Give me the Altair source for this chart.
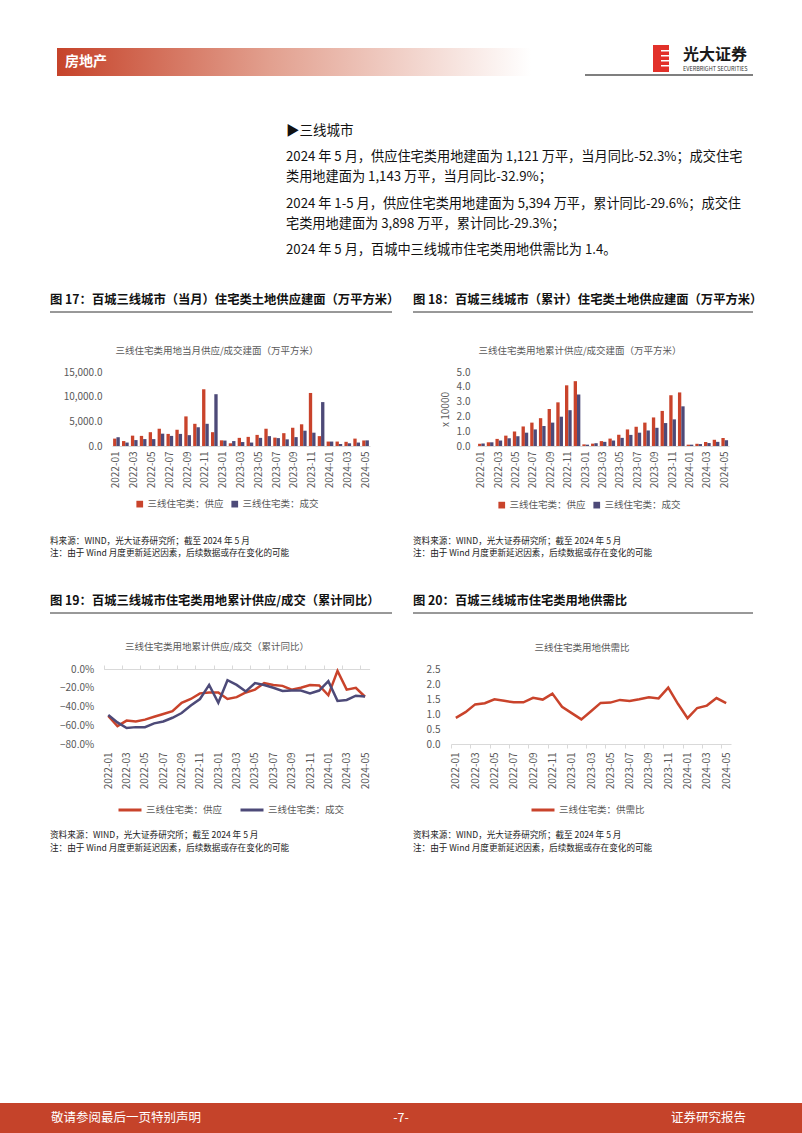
import altair as alt
import pandas as pd

FONT = "Noto Sans CJK SC"
RED = "#C9432B"
NAVY = "#4D4A78"
GRAY_T = "#595959"
AXIS_LINE = "#D9D9D9"

months = ["2022-01", "2022-02", "2022-03", "2022-04", "2022-05", "2022-06", "2022-07",
          "2022-08", "2022-09", "2022-10", "2022-11", "2022-12", "2023-01", "2023-02",
          "2023-03", "2023-04", "2023-05", "2023-06", "2023-07", "2023-08", "2023-09",
          "2023-10", "2023-11", "2023-12", "2024-01", "2024-02", "2024-03", "2024-04",
          "2024-05"]
tick_months = months[::2]

S_SUP = "三线住宅类：供应"
S_DEAL = "三线住宅类：成交"
S_RATIO = "三线住宅类：供需比"

# 当月供应/成交（万平方米）
supply_month = [1500, 1000, 2100, 2050, 2800, 3500, 2450, 3300, 6000, 4500, 11500, 2800,
                1150, 550, 1650, 1850, 2250, 3500, 1700, 2600, 3700, 4400, 10750, 2000,
                900, 900, 850, 1500, 1121]
deal_month = [1780, 700, 1200, 1400, 1400, 2500, 2050, 2450, 2200, 3800, 4500, 10500,
              1100, 1000, 800, 700, 1650, 2000, 1600, 1350, 1800, 3100, 2700, 8900,
              900, 400, 550, 700, 1143]
# 累计供应/成交（x 10000 万平方米）
supply_cum = [0.15, 0.25, 0.48, 0.70, 0.98, 1.32, 1.58, 1.88, 2.50, 2.95, 4.10, 4.38,
              0.11, 0.16, 0.33, 0.50, 0.76, 1.12, 1.30, 1.58, 1.93, 2.37, 3.43, 3.62,
              0.09, 0.15, 0.27, 0.42, 0.54]
deal_cum = [0.17, 0.25, 0.37, 0.52, 0.66, 0.90, 1.12, 1.35, 1.58, 1.98, 2.42, 3.48,
            0.09, 0.19, 0.28, 0.37, 0.55, 0.75, 0.90, 1.05, 1.23, 1.55, 1.80, 2.68,
            0.09, 0.13, 0.20, 0.28, 0.39]
# 累计同比（%）
supply_yoy = [-50, -61, -55, -56, -54, -51, -48, -45, -36, -32, -26, -25,
              -25, -32, -30, -25, -22, -15, -17, -18, -22, -20, -17, -17.5,
              -28, -2, -22, -20, -29.6]
deal_yoy = [-49, -57, -63, -62, -62, -58, -56, -52, -47, -39, -32, -17,
            -36, -12, -17, -24, -15, -17, -20, -23.5, -23, -23, -26, -23,
            -13, -34, -33, -28.5, -29.3]
# 供需比
ratio = [0.87, 1.06, 1.32, 1.36, 1.49, 1.44, 1.39, 1.39, 1.54, 1.48, 1.68, 1.24,
         1.03, 0.82, 1.09, 1.37, 1.38, 1.47, 1.43, 1.49, 1.56, 1.52, 1.88, 1.34,
         0.86, 1.20, 1.28, 1.53, 1.36]

para_lines = [
    "2024 年 5 月，供应住宅类用地建面为 1,121 万平，当月同比-52.3%；成交住宅",
    "类用地建面为 1,143 万平，当月同比-32.9%；",
    "2024 年 1-5 月，供应住宅类用地建面为 5,394 万平，累计同比-29.6%；成交住",
    "宅类用地建面为 3,898 万平，累计同比-29.3%；",
    "2024 年 5 月，百城中三线城市住宅类用地供需比为 1.4。",
]

dummy = pd.DataFrame({"d": [0]})


def txt(s, x, y, size=12.0, color="#000000", weight="normal", align="left", off=0):
    return alt.Chart(dummy).mark_text(
        text=s, font=FONT, fontSize=size, color=color, fontWeight=weight,
        align=align, baseline="middle"
    ).encode(x=alt.value(x), y=alt.value(y - off))


def hline(x1, x2, y, color, w, off=0):
    return alt.Chart(dummy).mark_rule(color=color, strokeWidth=w).encode(
        x=alt.value(x1), x2=alt.value(x2), y=alt.value(y - off))


def rect(x1, x2, y1, y2, fill, off=0):
    return alt.Chart(dummy).mark_rect(fill=fill).encode(
        x=alt.value(x1), x2=alt.value(x2), y=alt.value(y1 - off), y2=alt.value(y2 - off))


def spacer(w, h):
    return alt.Chart(dummy).mark_text(text=" ", fontSize=1, align="left", baseline="top").encode(
        x=alt.value(0), y=alt.value(0)).properties(width=w, height=h)


def legend(x, y, stype, ssize, colpad, sw=0):
    return alt.Legend(orient="none", legendX=x, legendY=y, direction="horizontal", title=None,
                      symbolType=stype, symbolSize=ssize, symbolStrokeWidth=sw,
                      labelFont=FONT, labelFontSize=9.5, labelColor=GRAY_T,
                      columnPadding=colpad, labelOffset=3, padding=0)


def x_axis_labels(**kw):
    base = dict(values=tick_months, labelAngle=270, labelAlign="right", labelBaseline="middle",
                labelPadding=5, title=None, labelFont=FONT, labelFontSize=10,
                labelColor=GRAY_T, grid=False)
    base.update(kw)
    return alt.Axis(**base)


def y_axis(values, pad, **kw):
    base = dict(values=values, grid=False, domain=False, ticks=False, labelPadding=pad,
                title=None, labelFont=FONT, labelFontSize=10, labelColor=GRAY_T)
    base.update(kw)
    return alt.Axis(**base)


def sup_deal_scale():
    return alt.Scale(domain=[S_SUP, S_DEAL], range=[RED, NAVY])


# column grid (page x): col0 0-112, col1 112-370, col2 370-477, col3 477-729
COL1_X = 112
COL3_X = 477

# ---------------- chart 17 ----------------
df17 = pd.DataFrame({"month": months + months,
                     "series": [S_SUP] * len(months) + [S_DEAL] * len(months),
                     "value": supply_month + deal_month})
c17 = alt.Chart(df17).mark_bar().encode(
    x=alt.X("month:O", sort=months, scale=alt.Scale(paddingInner=0.25, paddingOuter=0.125),
            axis=x_axis_labels(ticks=False, domainColor=AXIS_LINE)),
    xOffset=alt.XOffset("series:N", sort=[S_SUP, S_DEAL]),
    y=alt.Y("value:Q", scale=alt.Scale(domain=[0, 15000]),
            axis=y_axis([0, 5000, 10000, 15000], 10, format=",.1f")),
    color=alt.Color("series:N", scale=sup_deal_scale(), sort=[S_SUP, S_DEAL],
                    legend=legend(23, 127, "square", 45, 6)),
).properties(width=258, height=74)

# ---------------- chart 18 ----------------
df18 = pd.DataFrame({"month": months + months,
                     "series": [S_SUP] * len(months) + [S_DEAL] * len(months),
                     "value": supply_cum + deal_cum})
c18 = alt.Chart(df18).mark_bar().encode(
    x=alt.X("month:O", sort=months, scale=alt.Scale(paddingInner=0.25, paddingOuter=0.125),
            axis=x_axis_labels(ticks=False, domainColor=AXIS_LINE)),
    xOffset=alt.XOffset("series:N", sort=[S_SUP, S_DEAL]),
    y=alt.Y("value:Q", scale=alt.Scale(domain=[0, 5]),
            axis=y_axis([0, 1, 2, 3, 4, 5], 7, format=".1f", title="x 10000",
                        titleFont=FONT, titleFontSize=10, titleColor=GRAY_T,
                        titleFontWeight="normal", titlePadding=6)),
    color=alt.Color("series:N", scale=sup_deal_scale(), sort=[S_SUP, S_DEAL],
                    legend=legend(20, 128, "square", 45, 6)),
).properties(width=252, height=74)

# ---------------- chart 19 (plot spans page x 103.7-369.6) ----------------
L19, R19 = 103.7 - COL1_X, 369.6 - COL1_X
step19 = (R19 - L19) / len(months)
df19 = pd.DataFrame({"month": months + months,
                     "series": [S_SUP] * len(months) + [S_DEAL] * len(months),
                     "value": supply_yoy + deal_yoy})
x19_scale = alt.Scale(type="point", padding=0.5, range=[L19, R19])
y19 = alt.Y("value:Q", scale=alt.Scale(domain=[-80, 0]),
            axis=y_axis([-80, -60, -40, -20, 0], 10, offset=-L19,
                        labelExpr="format(datum.value, '.1f') + '%'"))
l19 = alt.Chart(df19).mark_line(strokeWidth=2.5).encode(
    x=alt.X("month:O", sort=months, scale=x19_scale,
            axis=x_axis_labels(ticks=False, domain=False, labelPadding=8)),
    y=y19,
    color=alt.Color("series:N", scale=sup_deal_scale(), sort=[S_SUP, S_DEAL],
                    legend=legend(117 - COL1_X, 128, "stroke", 529, 11, 3)),
)
top19 = alt.Chart(df19).mark_line(opacity=0).encode(
    x=alt.X("month:O", sort=months, scale=x19_scale,
            axis=alt.Axis(orient="top", values=tick_months, labels=False, title=None,
                          domainColor=AXIS_LINE, tickColor=AXIS_LINE, tickSize=4,
                          tickOffset=-step19 / 2, grid=False)),
    y=y19,
    detail="series:N",
)
c19 = alt.layer(l19, top19).resolve_axis(x="independent").properties(width=258, height=75)

# ---------------- chart 20 (plot spans page x 451-731) ----------------
L20, R20 = 451 - COL3_X, 731 - COL3_X
step20 = (R20 - L20) / len(months)
df20 = pd.DataFrame({"month": months, "series": [S_RATIO] * len(months), "value": ratio})
c20 = alt.Chart(df20).mark_line(strokeWidth=2.5).encode(
    x=alt.X("month:O", sort=months, scale=alt.Scale(type="point", padding=0.5, range=[L20, R20]),
            axis=x_axis_labels(ticks=True, tickColor=AXIS_LINE, tickSize=4,
                               domainColor=AXIS_LINE, tickOffset=-step20 / 2,
                               labelOffset=step20 / 2, labelPadding=4)),
    y=alt.Y("value:Q", scale=alt.Scale(domain=[0, 2.5]),
            axis=y_axis([0, 0.5, 1.0, 1.5, 2.0, 2.5], 11, format=".1f", offset=-L20)),
    color=alt.Color("series:N", scale=alt.Scale(domain=[S_RATIO], range=[RED]),
                    legend=legend(530 - COL3_X, 128, "stroke", 529, 11, 3)),
).properties(width=252, height=75)

# ---------------- page decorations ----------------
header_grad = alt.Chart(dummy).mark_rect(
    fill=alt.Gradient(gradient="linear",
                      stops=[alt.GradientStop(color="#C6432A", offset=0),
                             alt.GradientStop(color="#E2A08F", offset=0.45),
                             alt.GradientStop(color="#FFFFFF", offset=1)],
                      x1=0, x2=1, y1=0, y2=0)
).encode(x=alt.value(57), x2=alt.value(531), y=alt.value(48), y2=alt.value(76))

SRC_L = "料来源：WIND，光大证券研究所；截至 2024 年 5 月"
SRC = "资料来源：WIND，光大证券研究所；截至 2024 年 5 月"
NOTE = "注：由于 Wind 月度更新延迟因素，后续数据或存在变化的可能"

top_items = [
    header_grad,
    txt("房地产", 65, 62, 14, "#FFFFFF", "bold"),
    rect(653, 669, 45, 72, "#E2312A"),
    rect(661, 670, 50, 51.5, "#FFFFFF"),
    rect(661, 670, 55, 56.5, "#FFFFFF"),
    rect(661, 670, 60, 61.5, "#FFFFFF"),
    rect(661, 670, 65, 66.5, "#FFFFFF"),
    txt("光大证券", 683, 55, 16, "#1A1A1A", "bold"),
    txt("EVERBRIGHT SECURITIES", 683, 69, 5.5, "#333333"),
    hline(585, 753, 75, "#7F7F7F", 2),
    txt("▶三线城市", 286, 131, 13.5, "#111111"),
    txt(para_lines[0], 286, 157, 13.2, "#111111"),
    txt(para_lines[1], 286, 177, 13.2, "#111111"),
    txt(para_lines[2], 286, 204, 13.2, "#111111"),
    txt(para_lines[3], 286, 224, 13.2, "#111111"),
    txt(para_lines[4], 286, 250, 13.2, "#111111"),
    txt("图 17：百城三线城市（当月）住宅类土地供应建面（万平方米）", 50, 300, 12.3, "#111111", "bold"),
    txt("图 18：百城三线城市（累计）住宅类土地供应建面（万平方米）", 413, 300, 12.3, "#111111", "bold"),
    hline(50, 392, 312, "#333333", 1),
    hline(413, 753, 312, "#333333", 1),
    txt("三线住宅类用地当月供应/成交建面（万平方米）", 217, 351, 9.5, GRAY_T, align="center"),
    txt("三线住宅类用地累计供应/成交建面（万平方米）", 580, 351, 9.5, GRAY_T, align="center"),
]
row1 = alt.layer(*top_items).properties(width=1, height=372)

O3 = 446
mid_items = [
    txt(SRC_L, 50, 541, 8.6, "#222222", off=O3),
    txt(NOTE, 50, 553, 8.6, "#222222", off=O3),
    txt(SRC, 413, 541, 8.6, "#222222", off=O3),
    txt(NOTE, 413, 553, 8.6, "#222222", off=O3),
    txt("图 19：百城三线城市住宅类用地累计供应/成交（累计同比）", 50, 601, 12.3, "#111111", "bold", off=O3),
    txt("图 20：百城三线城市住宅类用地供需比", 413, 601, 12.3, "#111111", "bold", off=O3),
    hline(50, 392, 613, "#333333", 1, off=O3),
    hline(413, 753, 613, "#333333", 1, off=O3),
    txt("三线住宅类用地累计供应/成交（累计同比）", 217, 647, 9.5, GRAY_T, align="center", off=O3),
    txt("三线住宅类用地供需比", 582, 648, 9.5, GRAY_T, align="center", off=O3),
]
row3 = alt.layer(*mid_items).properties(width=1, height=223)

O5 = 744
bot_items = [
    txt(SRC, 50, 835, 8.6, "#222222", off=O5),
    txt(NOTE, 50, 848, 8.6, "#222222", off=O5),
    txt(SRC, 413, 835, 8.6, "#222222", off=O5),
    txt(NOTE, 413, 848, 8.6, "#222222", off=O5),
    rect(0, 802, 1103, 1133, "#C5432A", off=O5),
    txt("敬请参阅最后一页特别声明", 51, 1118, 12.5, "#FFFFFF", off=O5),
    txt("-7-", 401, 1118, 12.5, "#FFFFFF", align="center", off=O5),
    txt("证券研究报告", 746, 1118, 12.5, "#FFFFFF", align="right", off=O5),
]
row5 = alt.layer(*bot_items).properties(width=1, height=389)

cells = [
    row1, spacer(1, 1), spacer(1, 1), spacer(1, 1),
    spacer(COL1_X, 74), c17, spacer(COL3_X - COL1_X - 258, 74), c18,
    row3, spacer(1, 1), spacer(1, 1), spacer(1, 1),
    spacer(COL1_X, 75), c19, spacer(COL3_X - COL1_X - 258, 75), c20,
    row5, spacer(1, 1), spacer(1, 1), spacer(1, 1),
]

chart = alt.concat(
    *cells, columns=4, spacing=0, bounds="flush", align="each",
).resolve_scale(color="independent").resolve_legend(color="independent").properties(
    padding=0, background="white"
).configure(font=FONT, view=alt.ViewConfig(stroke=None))

chart.save("out.html", embed_options={"renderer": "svg", "actions": False})
